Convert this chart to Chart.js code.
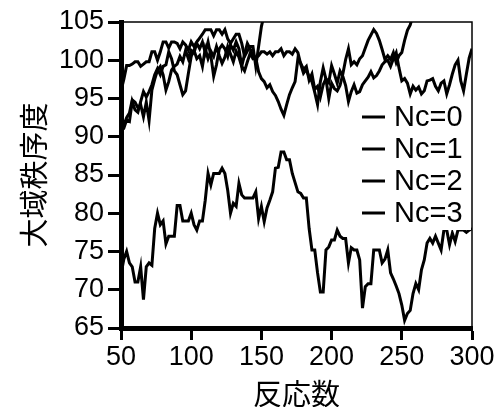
<!DOCTYPE html>
<html>
<head>
<meta charset="utf-8">
<script src="https://cdn.jsdelivr.net/npm/chart.js@4"></script>
<style>
    html, body { margin: 0; padding: 0; background: #fff; }
    #wrap { width: 500px; height: 407px; }
</style>
</head>
<body>
<div id="wrap"><canvas id="chart"></canvas></div>
<script>
// Reaction counts (x)
const reactions = [
    50, 52, 54, 56, 58, 60, 62, 64, 66, 68, 70, 72, 74, 76, 78, 80, 82, 84, 86, 88,
    90, 92, 94, 96, 98, 100, 102, 104, 106, 108, 110, 112, 114, 116, 118, 120, 122, 124, 126, 128,
    130, 132, 134, 136, 138, 140, 142, 144, 146, 148, 150, 152, 154, 156, 158, 160, 162, 164, 166, 168,
    170, 172, 174, 176, 178, 180, 182, 184, 186, 188, 190, 192, 194, 196, 198, 200, 202, 204, 206, 208,
    210, 212, 214, 216, 218, 220, 222, 224, 226, 228, 230, 232, 234, 236, 238, 240, 242, 244, 246, 248,
    250, 252, 254, 256, 258, 260, 262, 264, 266, 268, 270, 272, 274, 276, 278, 280, 282, 284, 286, 288,
    290, 292, 294, 296, 298, 300,
];

// Nc=0 leaves the top of the plot around 151
const nc0 = [
    96, 97.5, 99.3, 99.3, 99.5, 99.8, 99.8, 99.2, 99.5, 99.8, 99.8, 101.1, 101.1, 100, 101.1, 102.4, 102.4, 101.6, 102.4, 102.4,
    102.2, 101.5, 102.4, 102, 101.3, 102.4, 101.8, 102.4, 102.9, 103.4, 104, 104, 104, 103.2, 104, 104, 103.4, 104, 102.8, 102.2,
    102.8, 103.4, 103.4, 102.2, 100.5, 101.2, 101.8, 101.8, 99.2, 101.8, 104.4, 106, null, null, null, null, null, null, null, null,
    null, null, null, null, null, null, null, null, null, null, null, null, null, null, null, null, null, null, null, null,
    null, null, null, null, null, null, null, null, null, null, null, null, null, null, null, null, null, null, null, null,
    null, null, null, null, null, null, null, null, null, null, null, null, null, null, null, null, null, null, null, null,
    null, null, null, null, null, null,
];

// Nc=1 leaves the top around 256
const nc1 = [
    91.8, 91.5, 92.5, 93.1, 94.8, 94.5, 93.8, 94.2, 92.6, 94.5, 92.1, 96.1, 97.5, 98.7, 99.2, 98.1, 96.1, 97.2, 98.7, 99.2,
    99.5, 100.5, 99.8, 101.3, 100.2, 101.3, 101, 102.2, 101.5, 102.4, 101, 102.4, 100.6, 97.9, 99.4, 101.5, 102, 101.5, 100.5, 102,
    101.3, 102.4, 101.5, 99.2, 100.8, 102.2, 101.5, 100.6, 100.3, 100.6, 101.1, 101.1, 100.8, 101.1, 100.6, 101.1, 101.1, 101.5, 100.6, 101.1,
    101.1, 100.8, 101.5, 101, 99.5, 98.3, 98.8, 97.8, 97.2, 95.8, 94.2, 97.2, 99, 97.5, 95, 97, 96.3, 96, 96.7, 98.2,
    100.1, 101.5, 99.4, 99.8, 99.4, 100.2, 100.6, 101.6, 102.6, 103.3, 104, 103.5, 102.6, 101.4, 100.1, 100.6, 100.1, 101, 99.7, 100.6,
    101, 102.6, 103.9, 104.6, 106, null, null, null, null, null, null, null, null, null, null, null, null, null, null, null,
    null, null, null, null, null, null,
];

const nc2 = [
    91.1, 91.1, 92.2, 92, 94.6, 93.5, 93.2, 94.6, 95.9, 95.2, 95.9, 96.8, 98.1, 98.9, 98.1, 99.2, 99.4, 101.1, 100.2, 98.6,
    98.1, 96.8, 95.5, 96, 98.3, 100.5, 101.3, 100.2, 100.6, 99.2, 101.5, 100.2, 101.2, 100.5, 101.8, 100.6, 99.6, 100.4, 101.8, 100.8,
    99.8, 101.2, 100.4, 99.2, 98.6, 99.8, 100.9, 100.2, 100.3, 98.5, 97.6, 97.2, 96.4, 96.8, 95.9, 95.4, 94.6, 93.6, 92.8, 94.2,
    95.5, 96.4, 97.2, 100.2, 99.6, 98.8, 99.2, 97.4, 98.2, 96.2, 96.6, 95.2, 96.8, 97.6, 97.1, 99.3, 98.2, 97, 98.6, 97.9,
    96.7, 94.6, 95.9, 96.8, 95.7, 95.9, 96.8, 97.3, 97.8, 98.5, 97.7, 98, 98.6, 99.4, 99.8, 100, 99.2, 100.2, 101, 99,
    97.3, 97.6, 97, 95.6, 96.6, 96.1, 96.5, 95.6, 96, 97.3, 97.4, 97.6, 96.6, 96, 97, 97.3, 95.6, 96.8, 98.2, 99.4,
    100, 97.3, 96, 98.2, 100.3, 101.5,
];

const nc3 = [
    72, 74, 75, 73.5, 73, 71, 71, 73, 68.7, 73, 73.5, 73.2, 78, 80, 78.5, 79, 76, 77, 77, 77,
    81, 81, 79, 79, 79, 80, 78.5, 77.8, 79, 79, 81.7, 85.2, 83.7, 85.2, 85.2, 85.2, 85.9, 85.2, 83, 80,
    81.3, 80.9, 83.9, 82.4, 82, 82, 82, 82, 82.8, 79.3, 80.9, 78.9, 80.7, 81.7, 82.8, 85.9, 86, 88, 88, 87,
    87, 85.2, 84, 82.8, 82.6, 82, 82, 78, 75.2, 75.2, 72.2, 69.7, 69.7, 75.2, 75.6, 76.5, 76.5, 77.8, 77, 76.7,
    76.7, 73.5, 75.5, 75.2, 75.2, 73.9, 67.6, 70.4, 70.8, 70.8, 75.2, 75.2, 75.2, 73.5, 74, 75.2, 72.2, 71.4, 70.5, 69.5,
    68, 66, 66.9, 67.3, 69.5, 70.8, 70, 72.6, 73.9, 76.1, 76.7, 76.1, 77, 76.1, 75.2, 77.8, 77.8, 75.9, 77.4, 76.3,
    77.8, 77.8, 77.8, 77.5, 77.8, 78,
];

const seriesLabels = ['Nc=0', 'Nc=1', 'Nc=2', 'Nc=3'];
const seriesValues = [nc0, nc1, nc2, nc3];

const xTicks = [50, 100, 150, 200, 250, 300];
const yTicks = [65, 70, 75, 80, 85, 90, 95, 100, 105];

const FONT = '"Liberation Sans", Arial, "Noto Sans CJK JP", sans-serif';

// thin frame on top/right + white legend box with line samples
const frameAndLegend = {
    id: 'frameAndLegend',
    afterDatasetsDraw(chart) {
        const { ctx, chartArea } = chart;
        ctx.save();
        // legend box
        const bx = chartArea.right - 117;
        const by = 103;
        ctx.fillStyle = '#fff';
        ctx.fillRect(bx, by, 116, 127);
        ctx.strokeStyle = '#000';
        ctx.lineWidth = 1.5;
        ctx.strokeRect(chartArea.left, chartArea.top, chartArea.right - chartArea.left, chartArea.bottom - chartArea.top);
        ctx.font = '29px ' + FONT;
        ctx.textBaseline = 'middle';
        ctx.fillStyle = '#000';
        chart.data.datasets.forEach((ds, i) => {
            const y = 117 + i * 32;
            ctx.lineWidth = 3;
            ctx.beginPath();
            ctx.moveTo(362, y);
            ctx.lineTo(385, y);
            ctx.stroke();
            ctx.fillText(ds.label, 394, y + 1);
        });
        ctx.restore();
    },
};

new Chart(document.getElementById('chart'), {
    type: 'line',
    data: {
        datasets: seriesValues.map((vals, i) => ({
            label: seriesLabels[i],
            data: vals.map((v, j) => ({ x: reactions[j], y: v })),
            borderColor: '#000',
            borderWidth: 3,
            pointRadius: 0,
            tension: 0,
            fill: false,
            spanGaps: false,
            clip: 0,
        })),
    },
    options: {
        responsive: true,
        maintainAspectRatio: false,
        animation: false,
        layout: { padding: { top: 22, right: 28, left: 0, bottom: 0 } },
        plugins: { legend: { display: false }, tooltip: { enabled: false } },
        scales: {
            x: {
                type: 'linear',
                min: 50,
                max: 300,
                afterFit: (scale) => { scale.height = 79; },
                afterBuildTicks: (scale) => { scale.ticks = xTicks.map((v) => ({ value: v })); },
                border: { color: '#000', width: 5 },
                grid: { drawOnChartArea: false, drawTicks: true, tickLength: 12, tickWidth: 3, tickColor: '#000' },
                ticks: { color: '#000', font: { family: FONT, size: 27 }, padding: 1, maxRotation: 0 },
                title: { display: true, text: '反応数', color: '#000', font: { family: FONT, size: 29, lineHeight: 1 }, padding: { top: 0, bottom: -4 } },
            },
            y: {
                min: 65,
                max: 105,
                afterFit: (scale) => { scale.width = 121; },
                afterBuildTicks: (scale) => { scale.ticks = yTicks.map((v) => ({ value: v })); },
                border: { color: '#000', width: 5 },
                grid: { drawOnChartArea: false, drawTicks: true, tickLength: 13, tickWidth: 3, tickColor: '#000' },
                ticks: { color: '#000', font: { family: FONT, size: 27 }, padding: 4 },
                title: { display: true, text: '大域秩序度', color: '#000', font: { family: FONT, size: 29, lineHeight: 1 }, padding: { top: 22, bottom: 0 } },
            },
        },
    },
    plugins: [frameAndLegend],
});
</script>
</body>
</html>
